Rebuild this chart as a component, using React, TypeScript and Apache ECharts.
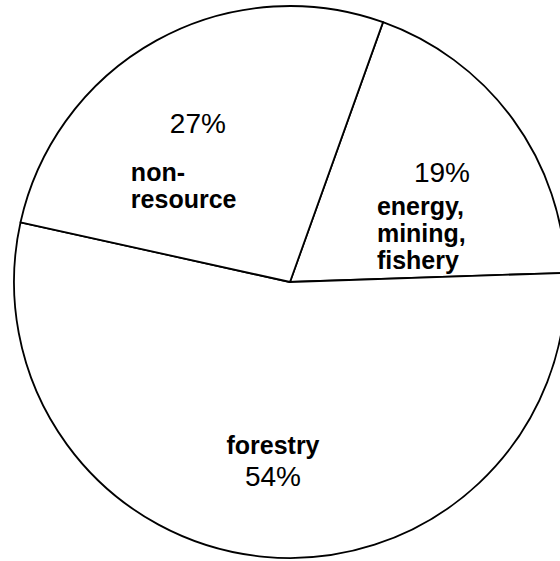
import React, { useEffect, useRef } from "react";
import * as echarts from "echarts";

// Slices, clockwise from the upper-right divider
const sectors = ["energy, mining, fishery", "forestry", "non-resource"];
const shares = [19, 54, 27];
const nameLabels = ["energy,\nmining,\nfishery", "forestry", "non-\nresource"];

// Label nudges relative to the default inner anchor of each slice
const pctShift: [number, number][] = [
  [38, -26],
  [-4, 54],
  [-24, -35],
];
const nameShift: [number, number][] = [
  [-27, 34],
  [-4, 23],
  [-91, 27],
];
const nameAlign = ["left", "center", "left"];

const FONT = "'Liberation Sans', Arial, Helvetica, sans-serif";

export default function App() {
  const ref = useRef<HTMLDivElement>(null);

  useEffect(() => {
    document.body.style.margin = "0";
    const chart = echarts.init(ref.current!, undefined, { renderer: "svg" });
    const data = sectors.map((name, i) => ({ name, value: shares[i] }));
    const common = {
      type: "pie" as const,
      center: [290, 282],
      radius: 276,
      startAngle: 70.3,
      clockwise: true,
      labelLine: { show: false },
      emphasis: { disabled: true },
      data,
    };
    chart.setOption({
      animation: false,
      backgroundColor: "#ffffff",
      series: [
        {
          ...common,
          itemStyle: { color: "#ffffff", borderColor: "#000000", borderWidth: 1.8 },
          label: {
            show: true,
            position: "inside",
            formatter: (p: any) => `${Math.round(p.percent)}%`,
            color: "#000000",
            fontFamily: FONT,
            fontSize: 28,
            fontWeight: "normal",
            lineHeight: 20,
          },
          labelLayout: (p: any) => ({
            dx: pctShift[p.dataIndex][0],
            dy: pctShift[p.dataIndex][1],
          }),
        },
        {
          ...common,
          silent: true,
          itemStyle: { color: "rgba(0,0,0,0)", borderWidth: 0 },
          label: {
            show: true,
            position: "inside",
            formatter: (p: any) => nameLabels[p.dataIndex],
            color: "#000000",
            fontFamily: FONT,
            fontSize: 25,
            fontWeight: "bold",
            lineHeight: 27,
          },
          labelLayout: (p: any) => ({
            dx: nameShift[p.dataIndex][0],
            dy: nameShift[p.dataIndex][1],
            align: nameAlign[p.dataIndex],
          }),
        },
      ],
    });
    return () => chart.dispose();
  }, []);

  return <div ref={ref} style={{ width: 560, height: 561 }} />;
}
